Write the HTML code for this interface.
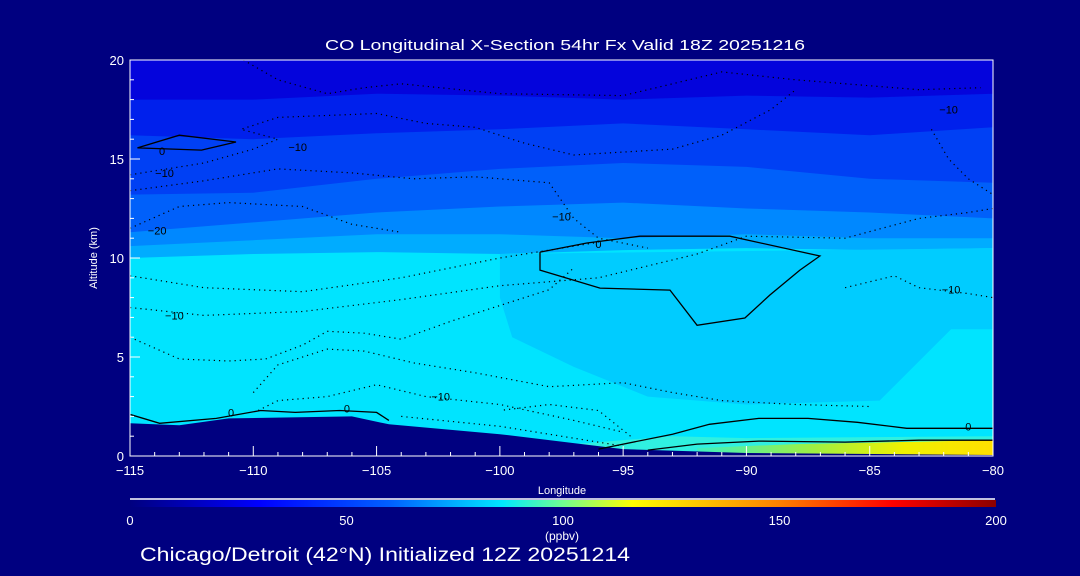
<!DOCTYPE html>
<html><head><meta charset="utf-8"><style>
html,body{margin:0;padding:0;background:#000080;width:1080px;height:576px;overflow:hidden}
svg text{font-family:"Liberation Sans",sans-serif;fill:#fff}
</style></head><body>
<svg id="chart" width="1080" height="576" viewBox="0 0 1080 576" xmlns="http://www.w3.org/2000/svg">
<defs>
<linearGradient id="cbar" x1="0" x2="1" y1="0" y2="0">
<stop offset="0" stop-color="#000080"/><stop offset="0.15" stop-color="#0000ff"/><stop offset="0.3" stop-color="#0060ff"/>
<stop offset="0.43" stop-color="#00e8ff"/><stop offset="0.5" stop-color="#70ff90"/><stop offset="0.58" stop-color="#ffff00"/>
<stop offset="0.75" stop-color="#ff8000"/><stop offset="0.88" stop-color="#ff0000"/><stop offset="1" stop-color="#8b0000"/>
</linearGradient>
<linearGradient id="surf" x1="0" x2="1" y1="0" y2="0">
<stop offset="0" stop-color="#40f0c0"/><stop offset="0.4" stop-color="#a0f040"/><stop offset="0.7" stop-color="#f0f000"/><stop offset="1" stop-color="#ffe000"/>
</linearGradient>
<clipPath id="pc"><rect x="130" y="60" width="863" height="396"/></clipPath>
</defs>
<text x="325" y="50" font-size="15" textLength="480" lengthAdjust="spacingAndGlyphs">CO Longitudinal X-Section 54hr  Fx Valid 18Z 20251216</text>
<g id="plot" clip-path="url(#pc)"></g>
<g id="axes"></g>
<text transform="translate(97,258) rotate(-90)" text-anchor="middle" font-size="11">Altitude (km)</text>
<text x="562" y="494" text-anchor="middle" font-size="11">Longitude</text>
<line x1="130" y1="499" x2="995" y2="499" stroke="#fff" stroke-width="1.5"/>
<rect x="130" y="500" width="866" height="7" fill="url(#cbar)"/>
<g id="cb"></g>
<text x="562" y="540" text-anchor="middle" font-size="12">(ppbv)</text>
<text x="140" y="561" font-size="19" textLength="490" lengthAdjust="spacingAndGlyphs">Chicago/Detroit (42°N) Initialized 12Z 20251214</text>
</svg>
<script>
const lons=[-115,-110,-105,-100,-95,-90,-85,-80];
const b1=[18.0,18.0,18.3,18.2,18.0,18.2,18.1,18.3];
const b2=[16.2,16.0,16.3,16.5,16.8,16.5,16.2,16.6];
const b3=[13.2,13.3,14.0,14.5,14.8,14.6,14.0,13.8];
const b4=[11.3,11.8,12.3,12.6,12.8,12.5,12.3,12.0];
const b5=[10.6,10.9,11.2,11.2,11.0,11.2,11.0,11.0];
const b6=[10.0,10.2,10.3,10.2,10.4,10.5,10.4,10.5];
const bandColors=["#0404dc","#0020ec","#0040f4","#0060fa","#0088ff","#00acff"];
const midLon=[-100,-80,-80,-81.7,-84.6,-90,-94,-97,-99.5,-100];
const midAlt=[10.2,10.5,6.4,6.4,2.8,2.6,3.0,4.5,6.0,8.0];
const terLon=[-115,-113,-111,-106,-104.5,-100,-95,-90,-80];
const terAlt=[1.65,1.55,1.9,2.0,1.6,1.1,0.35,0.15,0.05];
const z0Lon=[-98.37,-96.47,-94.32,-90.67,-87.02,-87.83,-89.05,-90.06,-92.0,-93.1,-95.94,-98.37,-98.37];
const z0Alt=[10.3,10.76,11.1,11.1,10.1,9.39,8.13,6.97,6.6,8.38,8.48,9.39,10.3];
const loopLon=[-114.7,-113.0,-110.7,-112.1,-114.7];
const loopAlt=[15.56,16.2,15.86,15.45,15.56];
const sfc1Lon=[-115,-113.8,-111.5,-109.7,-108.3,-106.5,-105,-104.5];
const sfc1Alt=[2.1,1.65,1.9,2.3,2.2,2.3,2.2,1.8];
const sfc2Lon=[-96,-93,-91.5,-89.5,-87.5,-85.5,-83.5,-80];
const sfc2Alt=[0.35,1.1,1.6,1.9,1.9,1.7,1.4,1.4];
const sfc3Lon=[-94,-92,-89.5,-86,-83,-80];
const sfc3Alt=[0.3,0.6,0.75,0.7,0.8,0.8];
const dots=[
 [[-110.4,20],[-109,19],[-107,18.3],[-105.5,18.6],[-104,18.8],[-100,18.3],[-95,18.2],[-93,18.8],[-91,19.4],[-88,19],[-83,18.5],[-80.5,18.6]],
 [[-115,14.2],[-112,14.8],[-110,15.5],[-109,16],[-110.5,16.5],[-109,17.1],[-105,17.3],[-103,16.8],[-101,16.6],[-99,15.8],[-97,15.2],[-93,15.5],[-91,16.2],[-89,17.5],[-88,18.5]],
 [[-115,13.4],[-112,13.9],[-109,14.5],[-106,14.3],[-103.5,14.0],[-101,14.1],[-98,13.8],[-97,12.0],[-96,11],[-94,10.5]],
 [[-115,11.5],[-113,12.6],[-111,12.8],[-108,12.6],[-106,11.7],[-104,11.3]],
 [[-115,9.1],[-112,8.5],[-108,8.3],[-104,9.0],[-100,10.0],[-96,10.8]],
 [[-115,7.5],[-112,7.1],[-108,7.3],[-104,7.9],[-100,8.6],[-96,9.0],[-92,10.2],[-90,11.1],[-86,11.0],[-83,12.0],[-81,12.3],[-80,12.5]],
 [[-115,6.0],[-113,4.9],[-111,4.8],[-109.5,4.9],[-108,5.6],[-107,6.3],[-105.5,6.2],[-104,5.9],[-102,6.8],[-100,7.6],[-98,8.4],[-97,9.5]],
 [[-110,3.2],[-109,4.6],[-107,5.4],[-105.5,5.3],[-103.5,4.7],[-101,4.2],[-98,3.5],[-95,3.7],[-93,3.2],[-91,2.8],[-88,2.6],[-85,2.5]],
 [[-109.8,2.3],[-109,2.8],[-107,3.0],[-105,3.6],[-103,3.0],[-100,2.6],[-97,1.8],[-95,1.2]],
 [[-94.7,1.0],[-96,2.3],[-98,2.6],[-100,2.3]],
 [[-104,2.0],[-100,1.5],[-97,0.9],[-95,0.5]],
 [[-86,8.5],[-85,8.8],[-84,9.1],[-83,8.5],[-81,8.2],[-80,8.0]],
 [[-82.5,16.5],[-81.8,15.0],[-81,14.0],[-80,13.2]]
];
const labels=[["0",-113.7,15.4],["\u221210",-108.2,15.6],["\u221210",-113.6,14.3],["\u221220",-113.9,11.4],["\u221210",-97.5,12.1],["0",-96,10.7],["\u221210",-113.2,7.1],["\u221210",-102.4,3.0],["0",-110.9,2.2],["0",-106.2,2.4],["0",-81,1.5],["\u221210",-81.7,8.4],["\u221210",-81.8,17.5]];
const xTicks=[-115,-110,-105,-100,-95,-90,-85,-80];
const yTicks=[0,5,10,15,20];
const cbTicks=[0,50,100,150,200];
const NS="http://www.w3.org/2000/svg";
const X=l=>130+(l+115)*863/35, Y=a=>456-a*396/20;
const plot=document.getElementById('plot'), axes=document.getElementById('axes');
function mk(t,a,p){const e=document.createElementNS(NS,t);for(const k in a)e.setAttribute(k,a[k]);p.appendChild(e);return e;}
function pts(L,A){return L.map((l,i)=>X(l).toFixed(1)+','+Y(A[i]).toFixed(1)).join(' ');}
let r=mk('rect',{x:130,y:60,width:863,height:396,fill:'#00e4ff'},plot);


const bounds=[b1,b2,b3,b4,b5,b6];
bounds.slice().reverse().forEach((b,ri)=>{const i=bounds.length-1-ri;
 const p=mk('polygon',{points:pts(lons,b)+' '+X(-80)+','+Y(21)+' '+X(-115)+','+Y(21),fill:bandColors[i]},plot);
 
 });
let m=mk('polygon',{points:pts(midLon,midAlt),fill:'#00ccff'},plot);


let s=mk('polygon',{points:X(-97)+','+Y(0.6)+' '+X(-93)+','+Y(1.0)+' '+X(-90)+','+Y(0.9)+' '+X(-80)+','+Y(1.0)+' '+X(-80)+','+Y(0)+' '+X(-97)+','+Y(0),fill:'#30f0e0'},plot);


let s2=mk('polygon',{points:X(-92)+','+Y(0.4)+' '+X(-88)+','+Y(0.6)+' '+X(-80)+','+Y(0.8)+' '+X(-80)+','+Y(0)+' '+X(-92)+','+Y(0),fill:'url(#surf)'},plot);


let t=mk('polygon',{points:pts(terLon,terAlt)+' '+X(-80)+','+Y(-1)+' '+X(-115)+','+Y(-1),fill:'#000080'},plot);


[[z0Lon,z0Alt],[loopLon,loopAlt],[sfc1Lon,sfc1Alt],[sfc2Lon,sfc2Alt],[sfc3Lon,sfc3Alt]].forEach((c,i)=>{
 const e=mk('polyline',{points:pts(c[0],c[1]),fill:'none',stroke:'#000','stroke-width':1.3},plot);
 
 });
dots.forEach((d,i)=>{const e=mk('polyline',{points:pts(d.map(p=>p[0]),d.map(p=>p[1])),fill:'none',stroke:'#000','stroke-width':1.2,'stroke-dasharray':'1.2 4'},plot);
 
 });
labels.forEach(l=>{const e=mk('text',{x:X(l[1]),y:Y(l[2])+4,'font-size':11,'text-anchor':'middle',style:'fill:#000'},plot);e.textContent=l[0];
 
 });
let fr=mk('rect',{x:130,y:60,width:863,height:396,fill:'none',stroke:'#fff','stroke-width':1},axes);


for(let l=-115;l<=-80;l++){mk('line',{x1:X(l),x2:X(l),y1:456,y2:l%5===0?446:452,stroke:'#fff'},axes);}
for(let a=0;a<=20;a++){mk('line',{x1:130,x2:a%5===0?140:134,y1:Y(a),y2:Y(a),stroke:'#fff'},axes);}
xTicks.forEach(v=>{const e=mk('text',{x:X(v),y:475,'text-anchor':'middle','font-size':13},axes);e.textContent=String(v).replace('-','\u2212');
 
 });
yTicks.forEach(v=>{const e=mk('text',{x:124,y:Y(v)+5,'text-anchor':'end','font-size':13},axes);e.textContent=v;
 
 });
const cb=document.getElementById('cb');
cbTicks.forEach(v=>{const e=mk('text',{x:130+v/200*866,y:525,'text-anchor':'middle','font-size':13},cb);e.textContent=v;
 
 });
</script>
</body></html>
